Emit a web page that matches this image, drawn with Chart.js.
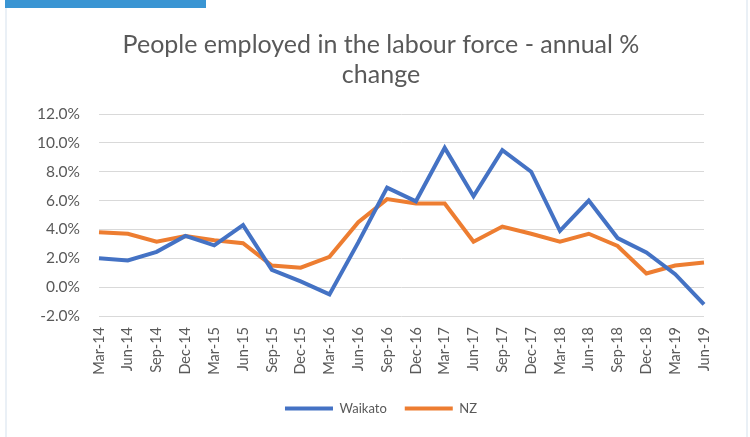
<!DOCTYPE html>
<html>
<head>
<meta charset="utf-8">
<script src="https://cdn.jsdelivr.net/npm/chart.js@4"></script>
<style>
  html, body { margin: 0; padding: 0; background: #fff; }
  #wrap { width: 750px; height: 437px; position: relative; }
</style>
</head>
<body>
<div id="wrap"><canvas id="empChart"></canvas></div>
<script>
var quarters = ['Mar-14','Jun-14','Sep-14','Dec-14','Mar-15','Jun-15','Sep-15','Dec-15',
  'Mar-16','Jun-16','Sep-16','Dec-16','Mar-17','Jun-17','Sep-17','Dec-17',
  'Mar-18','Jun-18','Sep-18','Dec-18','Mar-19','Jun-19'];
var waikato = [2.0, 1.85, 2.45, 3.55, 2.9, 4.3, 1.2, 0.4, -0.5, 3.1, 6.9, 5.95,
  9.65, 6.3, 9.5, 8.0, 3.9, 6.0, 3.4, 2.4, 0.9, -1.2];
var nz = [3.8, 3.7, 3.15, 3.55, 3.25, 3.05, 1.5, 1.35, 2.1, 4.5, 6.1, 5.8,
  5.8, 3.15, 4.2, 3.7, 3.15, 3.7, 2.85, 0.95, 1.5, 1.7];
var titleLines = ['People employed in the labour force - annual %', 'change'];

var grey = '#595959';
var fontName = 'Lato, "Liberation Sans", sans-serif';

// blue tab at the top and the light frame lines
var frame = {
  id: 'frame',
  beforeDraw: function(chart) {
    var c = chart.ctx;
    c.save();
    c.fillStyle = '#fff';
    c.fillRect(0, 0, chart.width, chart.height);
    c.fillStyle = '#eaf0f6';
    c.fillRect(5, 0, 2, chart.height);
    c.fillRect(746, 0, 2, chart.height);
    c.fillStyle = '#3a95d3';
    c.fillRect(5, 0, 201, 8);
    c.restore();
  }
};

var ctx = document.getElementById('empChart').getContext('2d');
var chart = new Chart(ctx, {
  type: 'line',
  data: {
    labels: quarters,
    datasets: [{
      label: 'Waikato',
      data: waikato,
      borderColor: '#4472c4',
      backgroundColor: '#4472c4',
      borderWidth: 4,
      pointRadius: 0,
      tension: 0
    }, {
      label: 'NZ',
      data: nz,
      borderColor: '#ed7d31',
      backgroundColor: '#ed7d31',
      borderWidth: 4,
      pointRadius: 0,
      tension: 0
    }]
  },
  options: {
    responsive: true,
    maintainAspectRatio: false,
    animation: false,
    layout: {
      padding: { left: 18, right: 6, top: 0, bottom: 12 }
    },
    plugins: {
      title: {
        display: true,
        text: titleLines,
        color: grey,
        font: { family: fontName, size: 25, weight: 'normal', lineHeight: 1.2 },
        padding: { top: 30, bottom: 24 }
      },
      legend: {
        position: 'bottom',
        labels: {
          color: grey,
          font: { family: fontName, size: 13 },
          usePointStyle: true,
          pointStyleWidth: 48,
          pointStyle: 'line',
          padding: 18
        }
      },
      tooltip: { enabled: false }
    },
    scales: {
      x: {
        offset: false,
        grid: { display: false, drawTicks: false },
        border: { display: false },
        ticks: {
          color: grey,
          font: { family: fontName, size: 14.5 },
          minRotation: 90,
          maxRotation: 90,
          autoSkip: false,
          padding: 11
        },
        afterFit: function(scale) { scale.height = 68; }
      },
      y: {
        min: -2,
        max: 12,
        grid: { color: '#d9d9d9', lineWidth: 1, drawTicks: false },
        border: { display: false },
        ticks: {
          stepSize: 2,
          color: grey,
          font: { family: fontName, size: 15.5 },
          padding: 19,
          callback: function(v) { return v.toFixed(1) + '%'; }
        },
        afterFit: function(scale) { scale.width = 81; }
      },
      // empty right-hand gutter so the legend centres like the original
      yRight: {
        position: 'right',
        display: true,
        grid: { display: false, drawTicks: false },
        border: { display: false },
        ticks: { display: false },
        afterFit: function(scale) { scale.width = 40; }
      }
    }
  },
  plugins: [frame]
});
</script>
</body>
</html>
